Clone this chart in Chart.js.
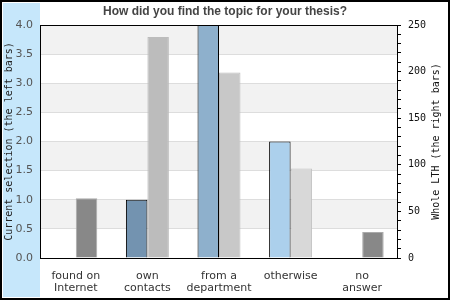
<!DOCTYPE html>
<html>
<head>
<meta charset="utf-8">
<script src="https://cdn.jsdelivr.net/npm/chart.js@4/dist/chart.umd.min.js"></script>
<style>
html,body{margin:0;padding:0;background:#fff;}
#wrap{width:450px;height:300px;position:relative;}
</style>
</head>
<body>
<div id="wrap"><canvas id="c" width="450" height="300"></canvas></div>
<script>
const chartTitle = 'How did you find the topic for your thesis?';
const categories = [['found on','Internet'],['own','contacts'],['from a','department'],'otherwise',['no','answer']];
const currentSelection = [0, 1, 4, 2, 0];
const wholeLTH = [64, 237, 199, 96, 28];
const leftTitle = 'Current selection (the left bars)';
const rightTitle = 'Whole LTH (the right bars)';
const leftColors = ['#7393b0', '#7393b0', '#8eb0cc', '#acd0ec', '#acd0ec'];
const rightColors = ['#888888', '#bcbcbc', '#c8c8c8', '#d8d8d8', '#888888'];
const rightBorders = ['#aaaaaa', '#bcbcbc', '#bbbbbb', '#c2c2c2', '#aaaaaa'];

const decor = {
  id: 'decor',
  beforeDraw(chart) {
    const ctx = chart.ctx, a = chart.chartArea;
    ctx.save();
    ctx.fillStyle = '#ffffff';
    ctx.fillRect(0, 0, 450, 300);
    ctx.fillStyle = '#c6e7fb';
    ctx.fillRect(3, 3, a.left - 3, 294);
    ctx.strokeStyle = '#000';
    ctx.lineWidth = 2;
    ctx.strokeRect(1, 1, 448, 298);
    // alternating bands
    const y = chart.scales.y;
    ctx.fillStyle = '#f2f2f2';
    for (let v = 0.5; v < 4; v += 1) {
      const y1 = y.getPixelForValue(v + 0.5), y0 = y.getPixelForValue(v);
      ctx.fillRect(a.left, y1, a.right - a.left, y0 - y1);
    }
    ctx.restore();
  },
  afterDraw(chart) {
    const ctx = chart.ctx, a = chart.chartArea;
    ctx.save();
    ctx.strokeStyle = '#000';
    ctx.lineWidth = 1;
    ctx.strokeRect(Math.round(a.left) + 0.5, Math.round(a.top) + 0.5,
      Math.round(a.right) - Math.round(a.left) - 1, Math.round(a.bottom) - Math.round(a.top));
    ctx.fillStyle = '#111';
    ctx.font = '10px "DejaVu Sans Mono"';
    ctx.textAlign = 'center';
    ctx.textBaseline = 'middle';
    ctx.translate(436, (a.top + a.bottom) / 2);
    ctx.rotate(-Math.PI / 2);
    ctx.fillText(rightTitle, 0, 0);
    ctx.restore();
  }
};

new Chart(document.getElementById('c'), {
  type: 'bar',
  data: {
    labels: categories,
    datasets: [
      { label: 'Current selection', data: currentSelection, yAxisID: 'y',
        backgroundColor: leftColors, borderColor: '#000', borderWidth: 1,
        categoryPercentage: 0.6, barPercentage: 1 },
      { label: 'Whole LTH', data: wholeLTH, yAxisID: 'y2',
        backgroundColor: rightColors, borderColor: rightBorders, borderWidth: 1,
        categoryPercentage: 0.6, barPercentage: 1 }
    ]
  },
  options: {
    responsive: false,
    animation: false,
    layout: { padding: 0 },
    plugins: {
      legend: { display: false },
      tooltip: { enabled: false },
      title: { display: true, text: chartTitle, color: '#444',
        font: { family: '"Liberation Sans", Arial, sans-serif', size: 12, weight: 'bold' },
        padding: { top: 4, bottom: 6.6 } }
    },
    scales: {
      x: {
        offset: true,
        grid: { display: false, drawTicks: false },
        border: { display: false },
        ticks: { color: '#333', padding: 12, maxRotation: 0, autoSkip: false,
          font: { family: '"DejaVu Sans"', size: 11, lineHeight: 1.1 } },
        afterFit(s) { s.height = 42; }
      },
      y: {
        position: 'left', min: 0, max: 4,
        grid: { color: '#dddddd', drawTicks: false },
        border: { display: false },
        ticks: { stepSize: 0.5, color: '#555', padding: 7,
          font: { family: '"DejaVu Sans"', size: 11 },
          callback: v => Number(v).toFixed(1) },
        title: { display: true, text: leftTitle, color: '#222',
          font: { family: '"DejaVu Sans Mono"', size: 10 }, padding: { top: 3, bottom: 0 } },
        afterFit(s) { s.width = 40; }
      },
      y2: {
        position: 'right', min: 0, max: 250,
        grid: { drawOnChartArea: false, drawTicks: true, tickLength: 3, color: '#000' },
        border: { display: false },
        ticks: { stepSize: 10, autoSkip: false, color: '#111', padding: 7,
          font: { family: '"DejaVu Sans Mono"', size: 10 },
          callback: v => (v % 50 === 0 ? String(v) : '') },
        afterFit(s) { s.width = 52; }
      }
    }
  },
  plugins: [decor]
});
</script>
</body>
</html>
